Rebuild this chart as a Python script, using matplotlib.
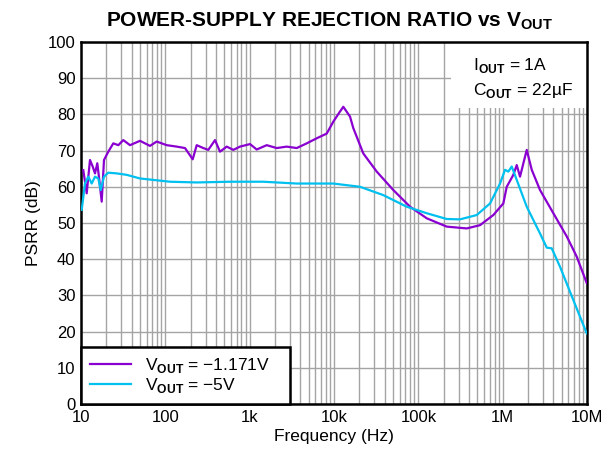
import numpy as np
import matplotlib
matplotlib.use("Agg")
from matplotlib import pyplot as plt
from matplotlib.ticker import LogLocator, NullFormatter
import matplotlib.patches as patches

plt.rcParams['font.family'] = ['Liberation Sans', 'DejaVu Sans']
plt.rcParams['mathtext.fontset'] = 'custom'
plt.rcParams['mathtext.rm'] = 'Liberation Sans'
plt.rcParams['mathtext.bf'] = 'Liberation Sans:bold'

# PSRR data (x as pixel column on the log axis)
purple_x_px = [83.3, 86.7, 90, 92.7, 95, 97.3, 99.3, 101.7, 104, 108.3, 113.3, 118.3, 123.3, 130,
               140, 150, 156.7, 166.7, 176.7, 185, 192.7, 196.7, 203.3, 208.3, 215, 220, 226.7,
               233.3, 240, 250, 256.7, 266.7, 276.7, 286.7, 296.7, 306.7, 316.7, 326.7, 333.3,
               340, 343.3, 350, 353.3, 363.3, 376.7, 393.3, 410, 426.7, 446.7, 466.7, 480,
               493.3, 503.3, 506.7, 513.3, 516.7, 520, 526.7, 531.7, 540, 553.3, 566.7, 576.7,
               586.7]
purple_db = [64.6, 58.2, 67.4, 65.6, 63.7, 66.5, 61.9, 55.9, 67.4, 69.7, 72.0, 71.5, 72.9, 71.5,
             72.7, 71.3, 72.5, 71.5, 71.1, 70.7, 67.6, 71.5, 70.7, 70.2, 72.9, 69.7, 71.1,
             70.2, 71.1, 71.8, 70.3, 71.5, 70.7, 71.1, 70.7, 72.0, 73.4, 74.7, 78.0,
             80.8, 82.1, 79.4, 76.2, 69.2, 64.2, 59.1, 54.5, 51.3, 49.0, 48.5, 49.4,
             52.2, 55.4, 60.0, 63.3, 66.0, 62.8, 70.2, 64.7, 59.1, 52.7, 46.3, 40.7,
             33.4]
cyan_x_px = [81.7, 85, 88.3, 91.7, 95, 98.3, 100.7, 104, 108.3, 116.7, 126.7, 140, 153.3, 170,
             196.7, 230, 263.3, 296.7, 333.3, 360, 383.3, 406.7, 426.7, 446.7, 460, 476.7,
             490, 500, 505, 508.3, 511.7, 516.7, 526.7, 540, 546.7, 551.7, 560, 573.3, 586.7]
cyan_db = [53.6, 60.9, 62.8, 60.9, 62.8, 62.3, 59.1, 62.8, 63.9, 63.7, 63.3, 62.3, 61.9, 61.4,
           61.2, 61.4, 61.4, 60.9, 60.9, 60.0, 57.7, 54.5, 52.7, 51.1, 51.0, 52.2,
           55.4, 60.9, 64.7, 64.2, 65.6, 61.9, 54.5, 47.1, 43.2, 43.0, 37.9, 28.7, 19.5]

# convert pixel columns to frequency (10 Hz at px 81, 84.33 px per decade)
purple_f = 10 ** (1 + (np.array(purple_x_px) - 81) / 84.33)
cyan_f = 10 ** (1 + (np.array(cyan_x_px) - 81) / 84.33)

xticks = [10, 100, 1e3, 1e4, 1e5, 1e6, 1e7]
xlabels = ['10', '100', '1k', '10k', '100k', '1M', '10M']

fig = plt.figure(figsize=(6.15, 4.55), dpi=100)
ax = fig.add_axes([0.1317, 0.1121, 0.8228, 0.7956])

ax.plot(purple_f, purple_db, color='#8a00d0', lw=1.6, label=r'V$_{\mathbf{OUT}}$ = $-$1.171V', zorder=3)
ax.plot(cyan_f, cyan_db, color='#00c0f0', lw=1.6, label=r'V$_{\mathbf{OUT}}$ = $-$5V', zorder=3)

ax.set_xscale('log')
ax.set_xlim(10, 1e7)
ax.set_ylim(0, 100)
ax.set_xticks(xticks)
ax.set_xticklabels(xlabels)
ax.xaxis.set_minor_locator(LogLocator(base=10, subs=np.arange(2, 10)))
ax.xaxis.set_minor_formatter(NullFormatter())
ax.set_yticks(np.arange(0, 101, 10))
ax.tick_params(which='both', length=0, labelsize=12, pad=4)
ax.grid(which='both', color='#a4a4a4', lw=1.0)
ax.set_axisbelow(True)
for s in ax.spines.values():
    s.set_linewidth(1.8)

ax.set_xlabel('Frequency (Hz)', fontsize=12.5, labelpad=3)
ax.set_ylabel('PSRR (dB)', fontsize=12.5, labelpad=5)
fig.suptitle(r'POWER-SUPPLY REJECTION RATIO vs V$_{\mathbf{OUT}}$', fontsize=15, fontweight='bold',
             x=0.535, y=0.978)

# white box behind the conditions text
box = patches.Rectangle((0.731, 0.818), 0.269, 0.182, transform=ax.transAxes,
                        facecolor='white', edgecolor='none', zorder=2)
ax.add_patch(box)
ax.text(0.775, 0.935, r'I$_{\mathbf{OUT}}$ = 1A', transform=ax.transAxes, fontsize=12.5, va='center', zorder=4)
ax.text(0.775, 0.865, r'C$_{\mathbf{OUT}}$ = 22µF', transform=ax.transAxes, fontsize=12.5, va='center', zorder=4)

leg = ax.legend(loc='lower left', bbox_to_anchor=(0, 0, 0.413, 0.196), mode='expand',
                fancybox=False, framealpha=1, edgecolor='black', fontsize=12.5,
                borderaxespad=0, handlelength=2.4, labelspacing=0.1, borderpad=0.5)
leg.get_frame().set_linewidth(1.8)

fig.savefig('out.png', dpi=100)
